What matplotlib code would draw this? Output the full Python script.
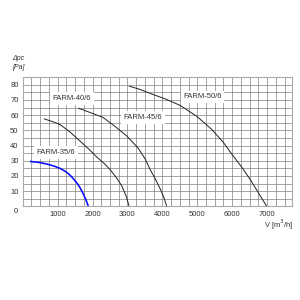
import matplotlib
matplotlib.use("Agg")
import matplotlib.pyplot as plt

plt.rcParams['font.family'] = ['Liberation Sans', 'DejaVu Sans']

# Data
farm35_v = [230, 450, 700, 900, 1070, 1200, 1300, 1420, 1550, 1650, 1740, 1820, 1880]
farm35_p = [29.5, 29.0, 27.8, 26.5, 25.0, 23.3, 21.7, 19.0, 15.5, 12.0, 8.0, 3.8, 0]

farm40_v = [620, 850, 1070, 1350, 1640, 1900, 2120, 2320, 2500, 2680, 2840, 2960, 3050]
farm40_p = [57.5, 55.8, 53.8, 49.0, 43.0, 37.5, 32.5, 28.5, 24.3, 19.0, 13.4, 7.0, 0]

farm45_v = [1600, 1900, 2300, 2650, 2980, 3300, 3500, 3650, 3800, 3950, 4050, 4125]
farm45_p = [64.5, 62.0, 58.5, 52.5, 46.3, 38.5, 31.5, 24.3, 18.0, 11.0, 5.5, 0]

farm50_v = [3055, 3350, 3650, 4100, 4510, 5000, 5415, 5750, 6035, 6300, 6515, 6750, 6990]
farm50_p = [79.0, 77.0, 74.3, 70.5, 66.4, 59.0, 50.6, 42.0, 33.0, 25.0, 17.7, 9.0, 0]

labels = ["FARM-35/6", "FARM-40/6", "FARM-45/6", "FARM-50/6"]
label_pos = [(950, 35.5), (1400, 71), (3450, 58.5), (5150, 72)]

x_ticks = [1000, 2000, 3000, 4000, 5000, 6000, 7000]
y_ticks = [10, 20, 30, 40, 50, 60, 70, 80]

fig = plt.figure(figsize=(3, 3), dpi=100)
ax = fig.add_axes([0.0757, 0.312, 0.896, 0.431])
ax.set_xlim(0, 7700)
ax.set_ylim(0, 85)

grid_c = '#808080'
for gx in range(0, 7701, 250):
    ax.axvline(gx, color=grid_c, lw=0.5, zorder=1)
for gy in range(0, 86, 5):
    ax.axhline(gy, color=grid_c, lw=0.5, zorder=1)

for s in ax.spines.values():
    s.set_color('#aaaaaa')
    s.set_linewidth(0.8)

ax.plot(farm35_v, farm35_p, color='#1010ff', lw=1.2, zorder=3, solid_joinstyle='round')
for v, p in [(farm40_v, farm40_p), (farm45_v, farm45_p), (farm50_v, farm50_p)]:
    ax.plot(v, p, color='#222222', lw=0.7, zorder=3, solid_joinstyle='round')

for lab, (lx, ly) in zip(labels, label_pos):
    ax.text(lx, ly, lab, fontsize=5.5, color='#333333', ha='center', va='center', zorder=4,
            bbox=dict(boxstyle='square,pad=0.35', fc='white', ec='none'))

ax.set_xticks(x_ticks)
ax.set_yticks(y_ticks)
ax.tick_params(length=0, labelsize=5.5, labelcolor='#333333', pad=3)
ax.text(-0.025, -0.042, "0", transform=ax.transAxes, fontsize=5.5, color='#333333',
        ha='center', va='center')

fig.text(0.04, 0.805, "\u0394pc", fontsize=5, style='italic', color='#333333', ha='left', va='center')
fig.text(0.04, 0.775, "[Pa]", fontsize=5, style='italic', color='#333333', ha='left', va='center')
fig.text(0.978, 0.252, "V [m$^3$/h]", fontsize=5.5, color='#333333', ha='right', va='center')

fig.savefig("out.png", dpi=100)
